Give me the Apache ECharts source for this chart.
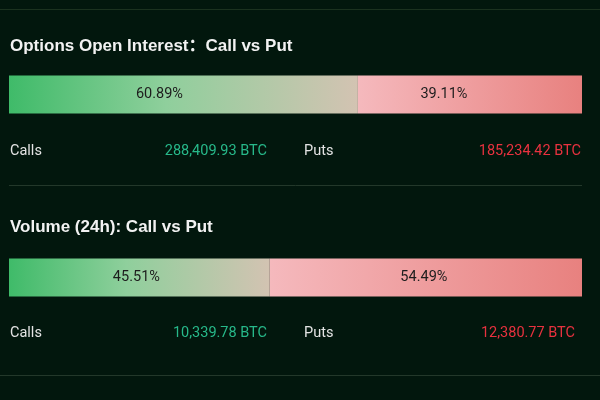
<!DOCTYPE html>
<html>
<head>
<meta charset="utf-8">
<script src="https://cdn.jsdelivr.net/npm/echarts@6/dist/echarts.min.js"></script>
<style>
html,body{margin:0;padding:0;background:#02170d;}
#c{width:600px;height:400px;}
</style>
</head>
<body>
<div id="c"></div>
<script>
const sectionTitles = ['Options Open Interest：Call vs Put', 'Volume (24h): Call vs Put'];
const callPct = [60.89, 45.51];
const putPct = [39.11, 54.49];
const sideNames = ['Calls', 'Puts'];
const callBtc = ['288,409.93 BTC', '10,339.78 BTC'];
const putBtc = ['185,234.42 BTC', '12,380.77 BTC'];

const layout = [
  {titleY: 46.5, barTop: 75.5, rowY: 151, putRight: 581, lblOff: [-24, -26]},
  {titleY: 227, barTop: 258.5, rowY: 333, putRight: 575, lblOff: [-3, -2]}
];
const BAR_H = 38;
const ROW_FONT = '14.5px Roboto, "DejaVu Sans", sans-serif';

const chart = echarts.init(document.getElementById('c'), null, {renderer: 'canvas'});

const grids = [], xAxes = [], yAxes = [], series = [], graphics = [];

function txt(text, x, y, fill, font, align) {
  return {
    type: 'text', silent: true,
    style: {
      text: text, x: x, y: y, fill: fill, font: font,
      align: align || 'left', verticalAlign: 'middle',
      textAlign: align || 'left', textVerticalAlign: 'middle'
    }
  };
}

const callGrad = () => new echarts.graphic.LinearGradient(0, 0, 1, 0, [
  {offset: 0, color: '#3fbb69'},
  {offset: 0.45, color: '#8fcf9c'},
  {offset: 1, color: '#d3c3b2'}
]);
const putGrad = () => new echarts.graphic.LinearGradient(0, 0, 1, 0, [
  {offset: 0, color: '#f5b9bd'},
  {offset: 1, color: '#e8817f'}
]);

// separator lines
graphics.push({type: 'line', silent: true, shape: {x1: 0, y1: 9.5, x2: 600, y2: 9.5}, style: {stroke: '#1b321f', lineWidth: 1}});
graphics.push({type: 'line', silent: true, shape: {x1: 9, y1: 185.5, x2: 582, y2: 185.5}, style: {stroke: '#23382a', lineWidth: 1}});
graphics.push({type: 'line', silent: true, shape: {x1: 0, y1: 375.5, x2: 600, y2: 375.5}, style: {stroke: '#23382a', lineWidth: 1}});

sectionTitles.forEach((t, i) => {
  const L = layout[i];
  grids.push({left: 9, right: 18, top: L.barTop, height: BAR_H, containLabel: false});
  xAxes.push({type: 'value', gridIndex: i, min: 0, max: 100, show: false});
  yAxes.push({type: 'category', gridIndex: i, data: [t], show: false});
  const lbl = (off) => ({
    show: true, position: 'inside', offset: [off, 0],
    color: '#1d1d1d', fontSize: 14.5, fontFamily: 'Roboto, "DejaVu Sans", sans-serif',
    formatter: p => p.value.toFixed(2) + '%'
  });
  series.push({
    type: 'bar', name: 'Call', stack: 's' + i, xAxisIndex: i, yAxisIndex: i,
    barWidth: BAR_H, data: [callPct[i]],
    itemStyle: {color: callGrad(), borderWidth: 0},
    label: lbl(L.lblOff[0]), silent: true
  });
  series.push({
    type: 'bar', name: 'Put', stack: 's' + i, xAxisIndex: i, yAxisIndex: i,
    barWidth: BAR_H, data: [putPct[i]],
    itemStyle: {color: putGrad(), borderWidth: 0},
    label: lbl(L.lblOff[1]), silent: true
  });
  graphics.push(txt(t, 10, L.titleY, '#f2f2f2', 'bold 17px "Liberation Sans", Arial, "Noto Sans CJK SC", sans-serif'));
  graphics.push(txt(sideNames[0], 10, L.rowY, '#e4e4e4', ROW_FONT));
  graphics.push(txt(callBtc[i], 267, L.rowY, '#27b98a', ROW_FONT, 'right'));
  graphics.push(txt(sideNames[1], 304, L.rowY, '#e4e4e4', ROW_FONT));
  graphics.push(txt(putBtc[i], L.putRight, L.rowY, '#e8323f', ROW_FONT, 'right'));
});

chart.setOption({
  backgroundColor: '#02170d',
  animation: false,
  grid: grids,
  xAxis: xAxes,
  yAxis: yAxes,
  series: series,
  graphic: graphics
});
</script>
</body>
</html>
